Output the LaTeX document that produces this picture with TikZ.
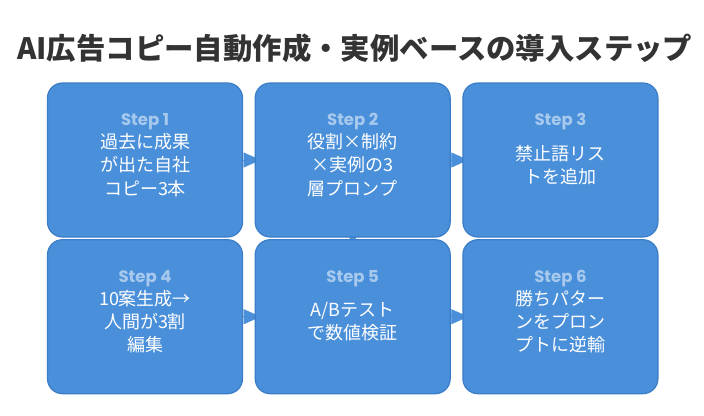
\documentclass[tikz,border=0pt]{standalone}
\usepackage{fontspec}
\newfontfamily\jpfont{Noto Sans CJK JP}
\newfontfamily\lblfont{Poppins}
\usepackage{tikz}
\usetikzlibrary{arrows.meta, positioning, backgrounds}
\usepackage{xcolor}
\definecolor{boxfill}{HTML}{4A8FD9}
\definecolor{boxline}{HTML}{3C7DC7}
\definecolor{lblblue}{HTML}{A7C9EE}
\definecolor{titlegray}{HTML}{333333}
\tikzset{
  stepbox/.style={
    rectangle, rounded corners=15pt, draw=boxline, line width=1.2pt,
    fill=boxfill, minimum width=195pt, minimum height=154pt,
    inner sep=0pt
  },
  steplabel/.style={
    inner sep=0pt, text=lblblue,
    font=\lblfont\bfseries\fontsize{16.5}{19}\selectfont
  },
  stepbody/.style={
    inner sep=0pt, text=white, align=center,
    font=\jpfont\fontsize{18}{23.3}\selectfont
  },
  headline/.style={
    inner sep=0pt, anchor=west, text=titlegray,
    font=\jpfont\bfseries\fontsize{29.4}{34}\selectfont
  },
  flow/.style={
    -{Triangle[width=15pt,length=17pt]}, draw=boxfill, fill=boxfill,
    line width=0.5pt, shorten >=-6pt
  }
}

\begin{document}
\begin{tikzpicture}[node distance=11.5pt]
  \path[use as bounding box] (0,0) rectangle (704pt,-415pt);

  \node[headline] (title) at (17pt,-48pt) {AI広告コピー自動作成・実例ベースの導入ステップ};

  \node[stepbox] (s1) at (145pt,-160pt) {};
  \node[stepbox, right=of s1] (s2) {};
  \node[stepbox, right=of s2] (s3) {};
  \node[stepbox, below=1.5pt of s1] (s4) {};
  \node[stepbox, right=of s4] (s5) {};
  \node[stepbox, right=of s5] (s6) {};

  \begin{scope}[on background layer]
    \draw[flow] (s1) -- (s2);
    \draw[flow] (s2) -- (s3);
    \draw[flow] (s2) -- (s5);
    \draw[flow] (s4) -- (s5);
    \draw[flow] (s5) -- (s6);
  \end{scope}

  \node[steplabel] (l1) at ([yshift=38pt]s1.center) {Step 1};
  \node[stepbody] (b1) at ([yshift=-5pt]s1.center) {過去に成果\\が出た自社\\コピー3本};
  \node[steplabel] (l2) at ([yshift=38pt]s2.center) {Step 2};
  \node[stepbody] (b2) at ([yshift=-5pt]s2.center) {役割×制約\\×実例の3\\層プロンプ};
  \node[steplabel] (l3) at ([yshift=38pt]s3.center) {Step 3};
  \node[stepbody] (b3) at ([yshift=-5pt]s3.center) {禁止語リス\\トを追加};
  \node[steplabel] (l4) at ([yshift=38pt]s4.center) {Step 4};
  \node[stepbody] (b4) at ([yshift=-5pt]s4.center) {10案生成→\\人間が3割\\編集};
  \node[steplabel] (l5) at ([yshift=38pt]s5.center) {Step 5};
  \node[stepbody] (b5) at ([yshift=-5pt]s5.center) {A/Bテスト\\で数値検証};
  \node[steplabel] (l6) at ([yshift=38pt]s6.center) {Step 6};
  \node[stepbody] (b6) at ([yshift=-5pt]s6.center) {勝ちパター\\ンをプロン\\プトに逆輸};
\end{tikzpicture}
\end{document}
